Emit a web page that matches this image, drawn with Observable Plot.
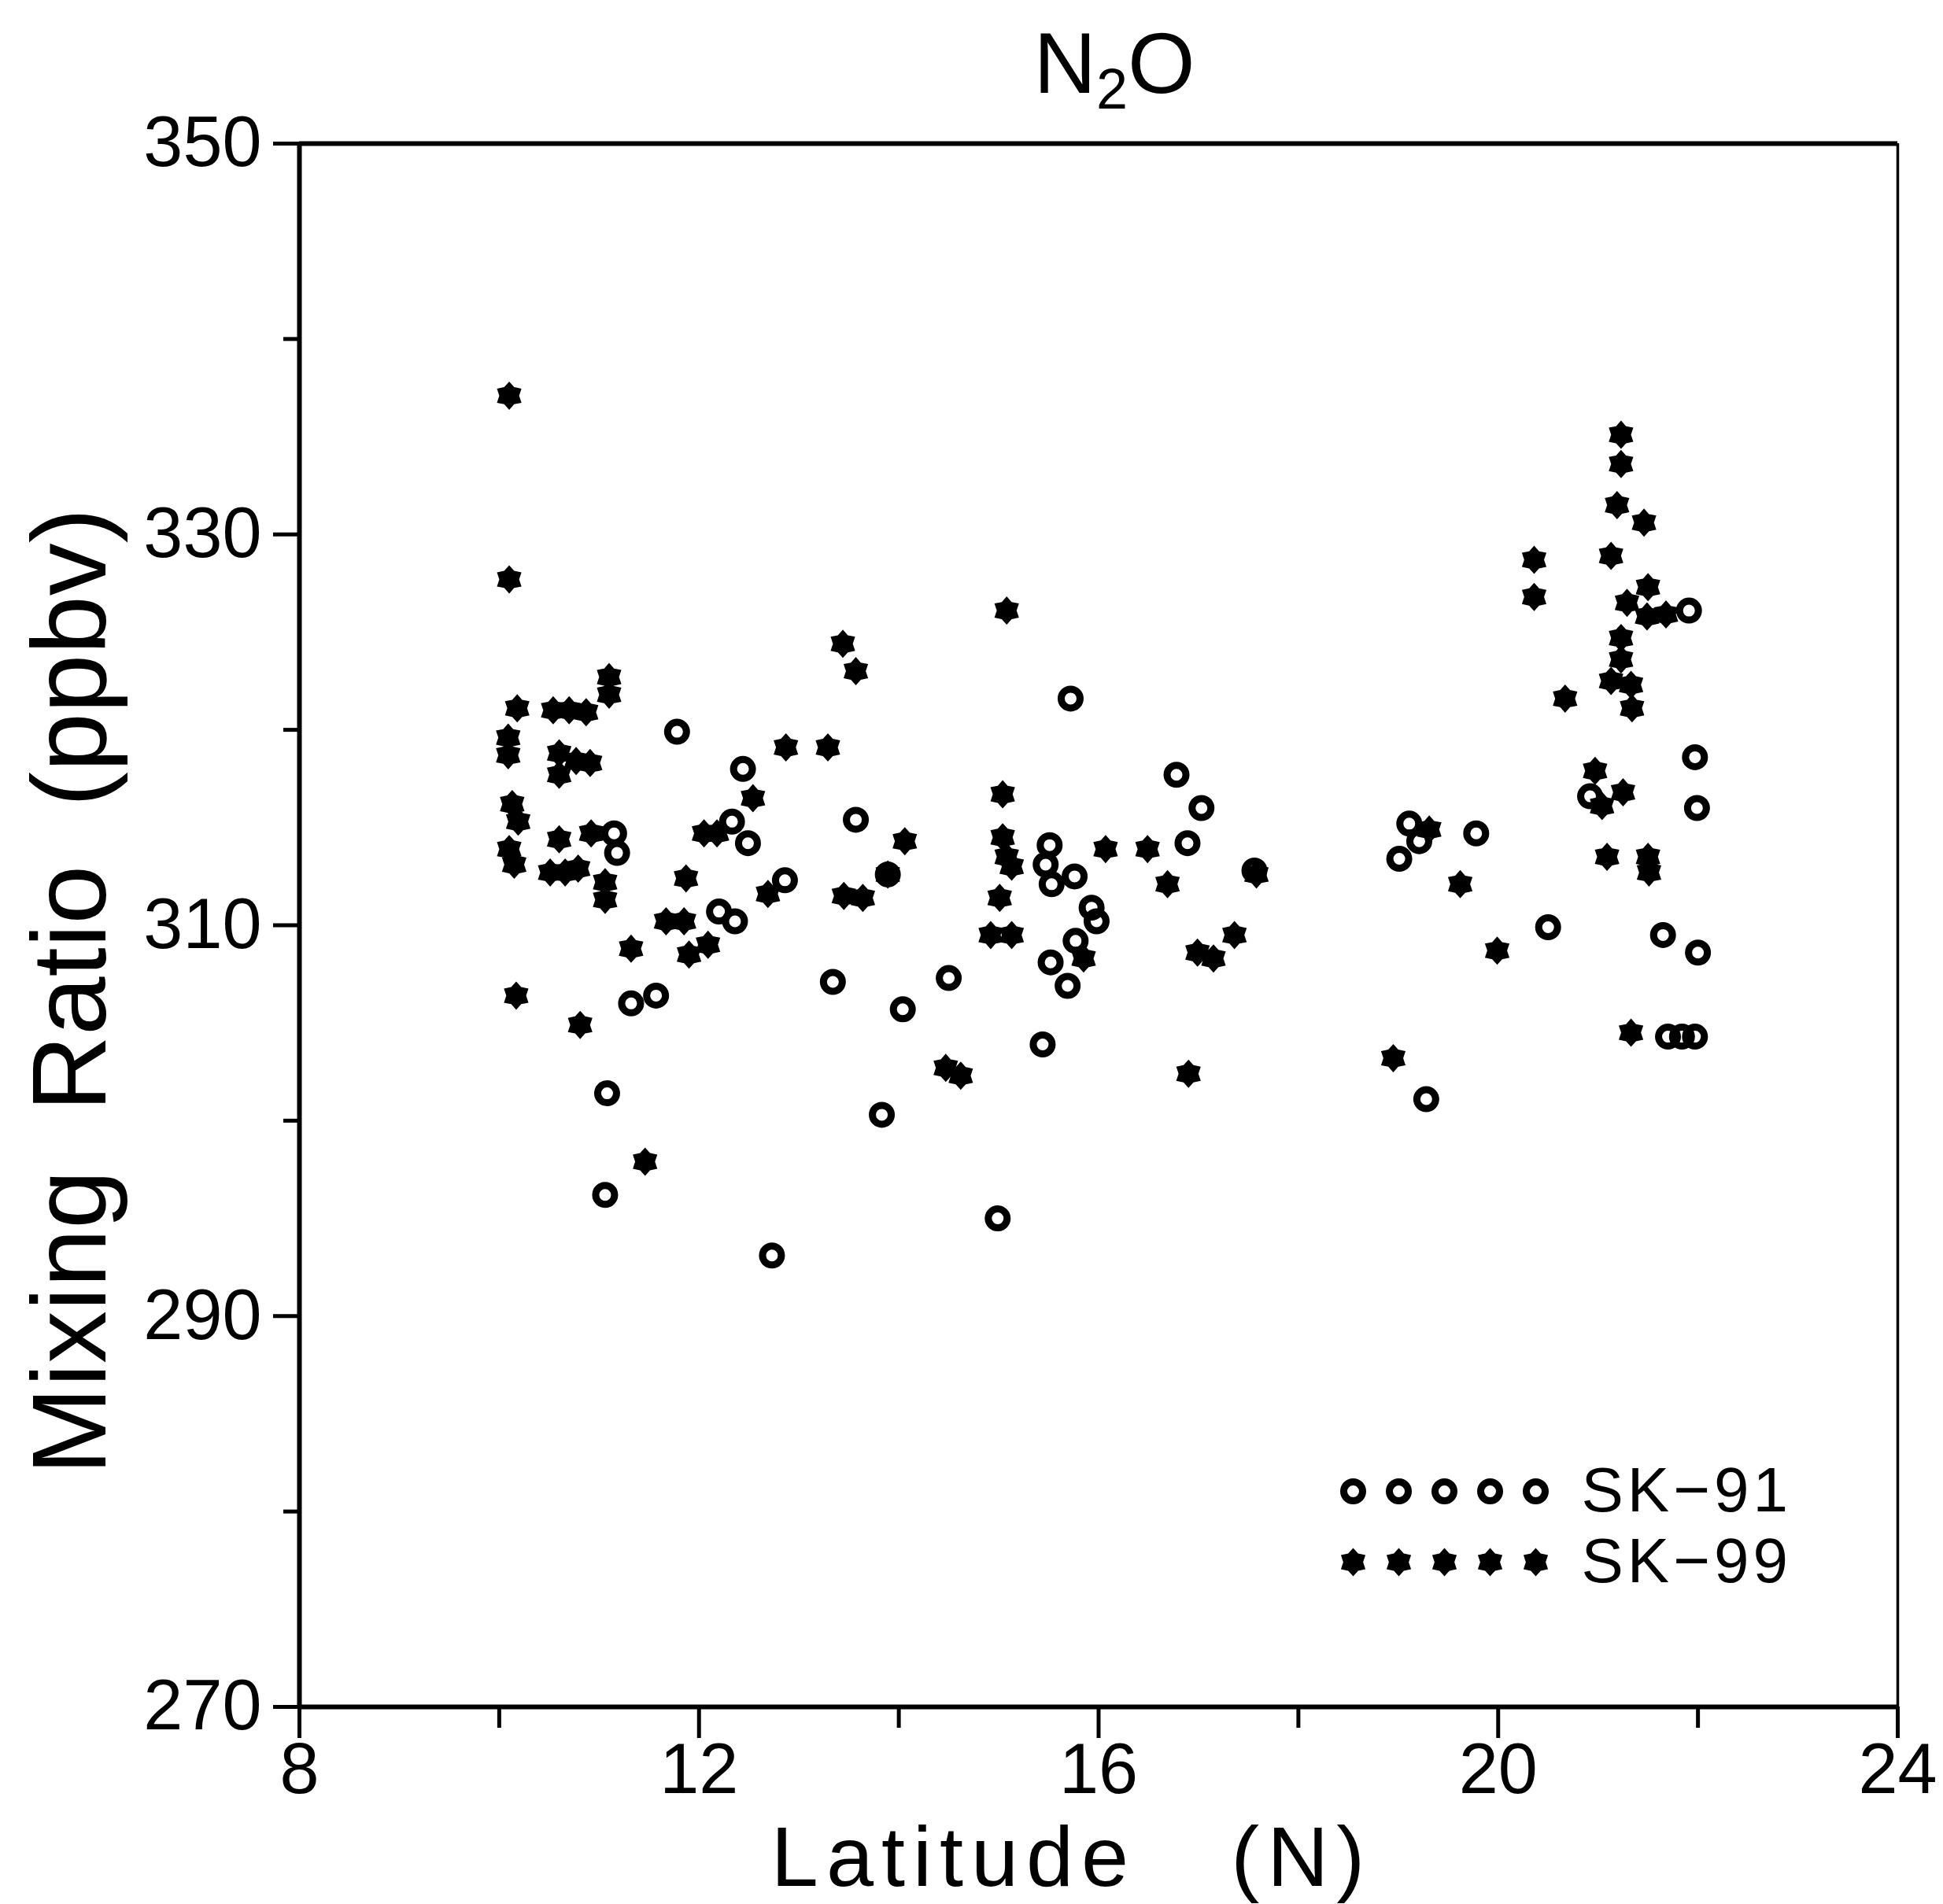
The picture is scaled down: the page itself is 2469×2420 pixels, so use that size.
<!DOCTYPE html>
<html><head><meta charset="utf-8">
<script src="https://cdn.jsdelivr.net/npm/d3@7"></script>
<script src="https://cdn.jsdelivr.net/npm/@observablehq/plot@0.6"></script>
<style>
html,body{margin:0;padding:0;background:#fff;overflow:hidden;}
svg text{white-space:pre;}
</style></head><body><div id="chart"></div>
<script>
const titleText = "N2O";
const xLabel = "Latitude   (N)";
const yLabel = "Mixing  Ratio  (ppbv)";
const xDomain = [8, 24];
const yDomain = [270, 350];
const xMajorTicks = [8, 12, 16, 20, 24];
const xMinorTicks = [10, 14, 18, 22];
const yMajorTicks = [270, 290, 310, 330, 350];
const yMinorTicks = [280, 300, 320, 340];
const seriesNames = ["SK-91", "SK-99"];

const sk91Lat = [11.15, 11.18, 11.08, 11.06, 11.32, 11.57, 11.78, 12.20, 12.36, 12.33, 12.49, 12.44, 12.86, 12.73, 13.34, 13.57, 13.89, 13.83, 14.04, 14.50, 14.99, 15.44, 15.72, 15.51, 15.47, 15.53, 15.76, 15.93, 15.98, 15.77, 15.52, 15.69, 16.78, 17.03, 16.89, 17.56, 19.01, 19.11, 19.21, 19.28, 19.78, 20.50, 20.92, 21.91, 21.97, 21.99, 21.65, 22.00, 21.70, 21.84, 21.97];
const sk91Val = [314.7, 313.7, 301.4, 296.2, 306.0, 306.4, 319.9, 310.7, 310.2, 315.3, 314.2, 318.0, 312.3, 293.1, 307.1, 315.4, 312.6, 300.3, 305.7, 307.3, 295.0, 303.9, 321.6, 314.1, 313.1, 312.1, 312.5, 310.9, 310.2, 309.2, 308.1, 306.9, 317.7, 316.0, 314.2, 312.8, 313.4, 315.2, 314.3, 301.1, 314.7, 309.9, 316.6, 326.1, 318.6, 316.0, 309.5, 308.6, 304.3, 304.3, 304.3];

const sk99Lat = [10.10, 10.10, 10.18, 10.09, 10.09, 10.13, 10.19, 10.10, 10.15, 10.17, 10.54, 10.70, 10.87, 11.10, 11.10, 10.60, 10.60, 10.77, 10.91, 10.60, 10.51, 10.66, 10.79, 10.92, 11.06, 11.06, 10.81, 11.32, 11.46, 11.67, 11.85, 11.87, 11.90, 12.09, 12.05, 12.18, 12.54, 12.69, 12.87, 13.29, 13.44, 13.57, 13.45, 13.64, 14.06, 13.89, 14.47, 14.62, 15.08, 15.04, 15.04, 15.08, 15.13, 15.01, 14.92, 15.13, 15.85, 16.07, 16.49, 16.69, 16.90, 16.99, 17.15, 17.36, 17.58, 18.95, 19.31, 19.62, 19.99, 20.36, 20.36, 20.67, 20.97, 21.04, 21.09, 21.23, 21.23, 21.19, 21.13, 21.46, 21.50, 21.29, 21.49, 21.68, 21.23, 21.23, 21.13, 21.33, 21.34, 21.25, 21.50, 21.51, 21.33];
const sk99Val = [337.1, 327.7, 321.1, 319.6, 318.7, 316.2, 315.3, 313.9, 313.1, 306.4, 321.0, 321.0, 320.9, 322.7, 321.8, 318.8, 317.7, 318.4, 318.3, 314.4, 312.7, 312.7, 312.9, 314.7, 312.2, 311.3, 304.9, 308.8, 297.9, 310.2, 310.2, 312.4, 308.5, 309.0, 314.7, 314.7, 316.5, 311.6, 319.1, 319.1, 324.4, 323.0, 311.5, 311.4, 314.3, 312.6, 302.7, 302.3, 326.1, 316.7, 314.5, 313.5, 313.0, 311.4, 309.5, 309.5, 308.3, 313.9, 313.9, 312.1, 302.4, 308.6, 308.3, 309.5, 312.6, 303.2, 314.9, 312.1, 308.7, 328.7, 326.8, 321.6, 317.9, 316.1, 313.5, 335.1, 333.6, 331.5, 328.9, 330.6, 327.3, 326.5, 325.8, 325.9, 324.7, 323.6, 322.5, 322.3, 321.1, 316.8, 313.5, 312.7, 304.5];

const sk91 = sk91Lat.map((lat, i) => ({lat, val: sk91Val[i]}));
const sk99 = sk99Lat.map((lat, i) => ({lat, val: sk99Val[i]}));

// filled six-pointed star symbol
const star6 = {
  draw(ctx, size) {
    const R = Math.sqrt(size / Math.PI), ri = R * 0.7;
    for (let i = 0; i < 12; i++) {
      const a = i * Math.PI / 6 - Math.PI / 2;
      const rr = i % 2 === 0 ? R : ri;
      const px = rr * Math.cos(a), py = rr * Math.sin(a);
      if (i === 0) ctx.moveTo(px, py); else ctx.lineTo(px, py);
    }
    ctx.closePath();
  }
};

const circleStyle = {r: 12, stroke: "black", strokeWidth: 9, fill: "none", symbol: "circle"};
const starStyle = {r: 18, fill: "black", stroke: "none", symbol: star6};

const legendLabel = d => d.replace("-", "\u2212");
const legendMarks = [];
const legendStep = 58;
[[circleStyle, -274], [starStyle, -184]].forEach(([style, dy], k) => {
  for (let i = 0; i < 5; i++) {
    legendMarks.push(Plot.dot([seriesNames[k]], {...style, frameAnchor: "bottom-right", dx: -692 + i * legendStep, dy}));
  }
  legendMarks.push(Plot.text([seriesNames[k]], {text: legendLabel, frameAnchor: "bottom-right", dx: -402, dy, textAnchor: "start", lineAnchor: "middle", fontSize: 80}));
});

const chart = Plot.plot({
  width: 2469,
  height: 2420,
  marginLeft: 380,
  marginRight: 58,
  marginTop: 182,
  marginBottom: 251,
  x: {domain: xDomain, axis: null},
  y: {domain: yDomain, axis: null},
  style: {fontFamily: "'Liberation Sans', Arial, sans-serif", background: "white", color: "black"},
  marks: [
    Plot.axisY(yMajorTicks, {anchor: "left", tickSize: 33, tickPadding: 15, fontSize: 90, strokeWidth: 5, tickFormat: d => String(d), label: null}),
    Plot.axisY(yMinorTicks, {anchor: "left", tickSize: 20, tickFormat: () => "", strokeWidth: 5, label: null}),
    Plot.axisX(xMajorTicks, {anchor: "bottom", tickSize: 40, tickPadding: 6, fontSize: 90, strokeWidth: 5, tickFormat: d => String(d), label: null}),
    Plot.axisX(xMinorTicks, {anchor: "bottom", tickSize: 27, tickFormat: () => "", strokeWidth: 5, label: null}),
    Plot.ruleY(yDomain, {strokeWidth: 6}),
    Plot.ruleX([xDomain[0]], {strokeWidth: 6}),
    Plot.ruleX([xDomain[1]], {strokeWidth: 3.5}),
    Plot.dot(sk91, {x: "lat", y: "val", ...circleStyle}),
    Plot.dot(sk99, {x: "lat", y: "val", ...starStyle}),
    ...legendMarks,
    Plot.text([titleText], {text: d => d, frameAnchor: "top", dx: 20, dy: -100, fontSize: 110, lineAnchor: "middle"}),
    Plot.text([xLabel], {text: d => d, frameAnchor: "bottom", dx: -34, dy: 193, fontSize: 108, lineAnchor: "middle"}),
    Plot.text([yLabel], {text: d => d, frameAnchor: "left", textAnchor: "middle", rotate: -90, dx: -289, dy: 84, fontSize: 134, lineAnchor: "middle"})
  ]
});

const svgSel = d3.select(chart);
// render the title with a real subscript
svgSel.selectAll("text").filter(function() { return this.textContent === titleText; }).each(function() {
  const t = d3.select(this);
  t.text(null);
  t.append("tspan").text("N");
  t.append("tspan").attr("dy", 20).attr("font-size", 72).text("2");
  t.append("tspan").attr("dy", -20).text("O");
});
// widen the x label and legend labels like the reference lettering
svgSel.selectAll("text").filter(function() { return this.textContent === xLabel; }).style("letter-spacing", "10px");
const legendTexts = seriesNames.map(legendLabel);
svgSel.selectAll("text").filter(function() { return legendTexts.includes(this.textContent); }).style("letter-spacing", "5px");

document.getElementById("chart").appendChild(chart);
</script></body></html>
